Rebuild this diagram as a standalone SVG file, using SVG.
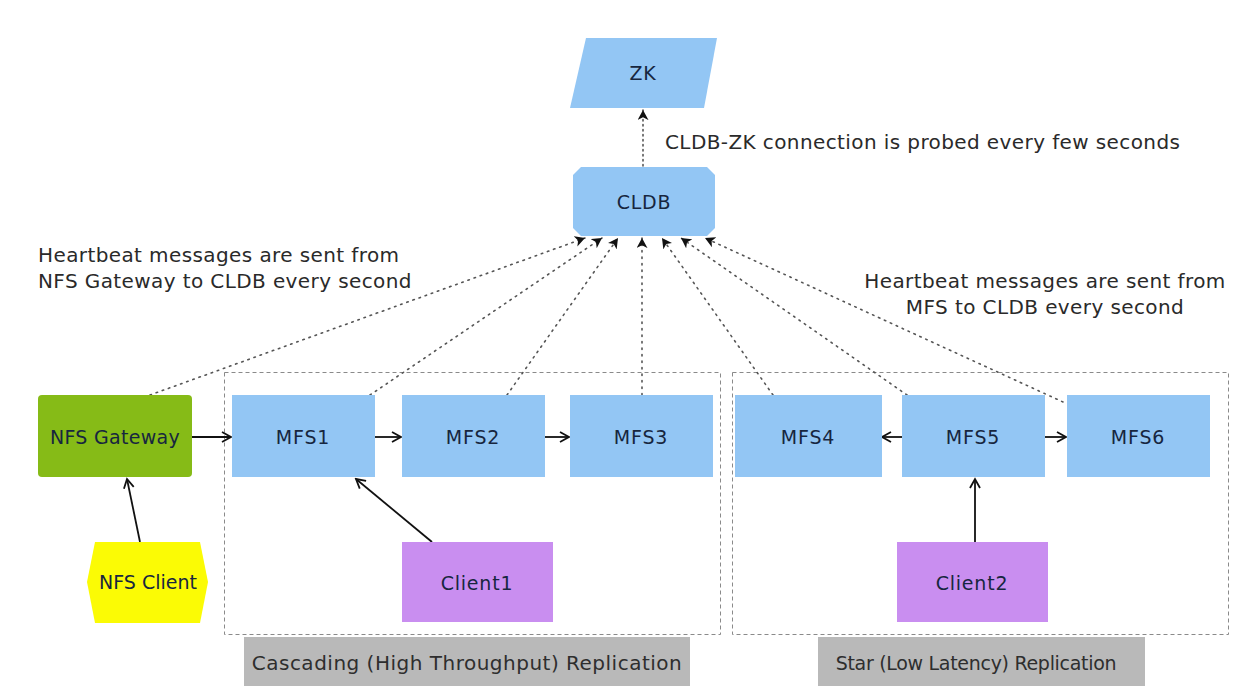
<svg xmlns="http://www.w3.org/2000/svg" width="1233" height="686" viewBox="0 0 1233 686">
<style>
  text { font-family: "DejaVu Sans", "Liberation Sans", sans-serif; }
  .lbl { font-size: 20px; letter-spacing: 0.4px; fill: #2a2a2a; }
  .nt { font-size: 19px; letter-spacing: 0.8px; fill: #17263f; text-anchor: middle; }
  .mfs { fill: #93c6f4; }
  .grp { fill: none; stroke: #8a8a8a; stroke-width: 1; stroke-dasharray: 4,3; }
  .cap { fill: #b9b9b9; }
  .capt { font-size: 20px; letter-spacing: 0.5px; fill: #2e2e2e; text-anchor: middle; }
  .solid { fill: none; stroke: #111; stroke-width: 1.8; marker-end: url(#open); }
  .dot { fill: none; stroke: #555; stroke-width: 1.6; stroke-dasharray: 1.5,5; stroke-linecap: round; marker-end: url(#barb); }
</style>
<defs>
  <marker id="open" viewBox="0 0 12 12" refX="10" refY="6" markerWidth="12" markerHeight="12" markerUnits="userSpaceOnUse" orient="auto">
    <path d="M1,1 L10,6 L1,11" fill="none" stroke="#111" stroke-width="1.8"/>
  </marker>
  <marker id="barb" viewBox="0 0 12 12" refX="11" refY="6" markerWidth="11" markerHeight="11" markerUnits="userSpaceOnUse" orient="auto">
    <path d="M0,0 L11,6 L0,12 L3,6 Z" fill="#111"/>
  </marker>
</defs>
<rect width="1233" height="686" fill="#ffffff"/>

<g id="groups">
  <rect class="grp" x="224.5" y="372.5" width="496" height="262"/>
  <rect class="grp" x="732.5" y="372.5" width="496" height="262"/>
</g>

<g id="connectors">
  <line x1="643" y1="166" x2="643" y2="110" class="dot" style="stroke-dasharray:1.5,3.5"/>
  <line x1="150" y1="395" x2="585" y2="238" class="dot"/>
  <line x1="370" y1="395" x2="602" y2="238" class="dot"/>
  <line x1="507" y1="395" x2="618" y2="238" class="dot"/>
  <line x1="642" y1="395" x2="642" y2="238" class="dot"/>
  <line x1="773" y1="395" x2="662" y2="238" class="dot"/>
  <line x1="907" y1="395" x2="681" y2="238" class="dot"/>
  <line x1="1063" y1="402" x2="705" y2="238" class="dot"/>
  <line x1="192" y1="437" x2="231" y2="437" class="solid"/>
  <line x1="375" y1="437" x2="401" y2="437" class="solid"/>
  <line x1="545" y1="437" x2="569" y2="437" class="solid"/>
  <line x1="902" y1="437" x2="882" y2="437" class="solid"/>
  <line x1="1045" y1="437" x2="1066" y2="437" class="solid"/>
  <line x1="140" y1="542" x2="127" y2="479" class="solid"/>
  <line x1="432" y1="542" x2="356" y2="479" class="solid"/>
  <line x1="975" y1="542" x2="975" y2="479" class="solid"/>
</g>

<g id="ZK">
  <polygon points="586,38 717,38 704,108 570,108" fill="#93c6f4"/>
  <text class="nt" x="643" y="80">ZK</text>
</g>

<g id="CLDB">
  <polygon points="581,167 707,167 715,175 715,228 707,236 581,236 573,228 573,175" fill="#93c6f4"/>
  <text class="nt" x="644" y="209">CLDB</text>
</g>

<g id="NFSGateway">
  <rect x="38" y="395" width="154" height="82" rx="4" fill="#86bb17"/>
  <text class="nt" x="115" y="444" style="letter-spacing:0.3px">NFS Gateway</text>
</g>

<g id="NFSClient">
  <polygon points="95,542 200,542 208,582 200,623 95,623 87,582" fill="#fbfb05"/>
  <text class="nt" x="148" y="589" style="letter-spacing:0px">NFS Client</text>
</g>

<g id="MFS1">
  <rect class="mfs" x="232" y="395" width="143" height="82"/>
  <text class="nt" x="303" y="444">MFS1</text>
</g>
<g id="MFS2">
  <rect class="mfs" x="402" y="395" width="143" height="82"/>
  <text class="nt" x="473" y="444">MFS2</text>
</g>
<g id="MFS3">
  <rect class="mfs" x="570" y="395" width="143" height="82"/>
  <text class="nt" x="641" y="444">MFS3</text>
</g>
<g id="MFS4">
  <rect class="mfs" x="735" y="395" width="147" height="82"/>
  <text class="nt" x="808" y="444">MFS4</text>
</g>
<g id="MFS5">
  <rect class="mfs" x="902" y="395" width="143" height="82"/>
  <text class="nt" x="973" y="444">MFS5</text>
</g>
<g id="MFS6">
  <rect class="mfs" x="1067" y="395" width="143" height="82"/>
  <text class="nt" x="1138" y="444">MFS6</text>
</g>

<g id="Client1">
  <rect x="402" y="542" width="151" height="80" fill="#c98ef0"/>
  <text class="nt" x="477" y="590">Client1</text>
</g>
<g id="Client2">
  <rect x="897" y="542" width="151" height="80" fill="#c98ef0"/>
  <text class="nt" x="972" y="590">Client2</text>
</g>

<g id="labels">
  <text class="lbl" x="665" y="149">CLDB-ZK connection is probed every few seconds</text>
  <text class="lbl" x="38" y="262">Heartbeat messages are sent from</text>
  <text class="lbl" x="38" y="288">NFS Gateway to CLDB every second</text>
  <text class="lbl" x="1045" y="288" text-anchor="middle">Heartbeat messages are sent from</text>
  <text class="lbl" x="1045" y="314" text-anchor="middle">MFS to CLDB every second</text>
</g>

<g id="captions">
  <rect class="cap" x="244" y="637" width="446" height="49"/>
  <text class="capt" x="467" y="670">Cascading (High Throughput) Replication</text>
  <rect class="cap" x="818" y="637" width="327" height="49"/>
  <text class="capt" x="976" y="670" style="letter-spacing:-0.3px;font-size:19px">Star (Low Latency) Replication</text>
</g>
</svg>
